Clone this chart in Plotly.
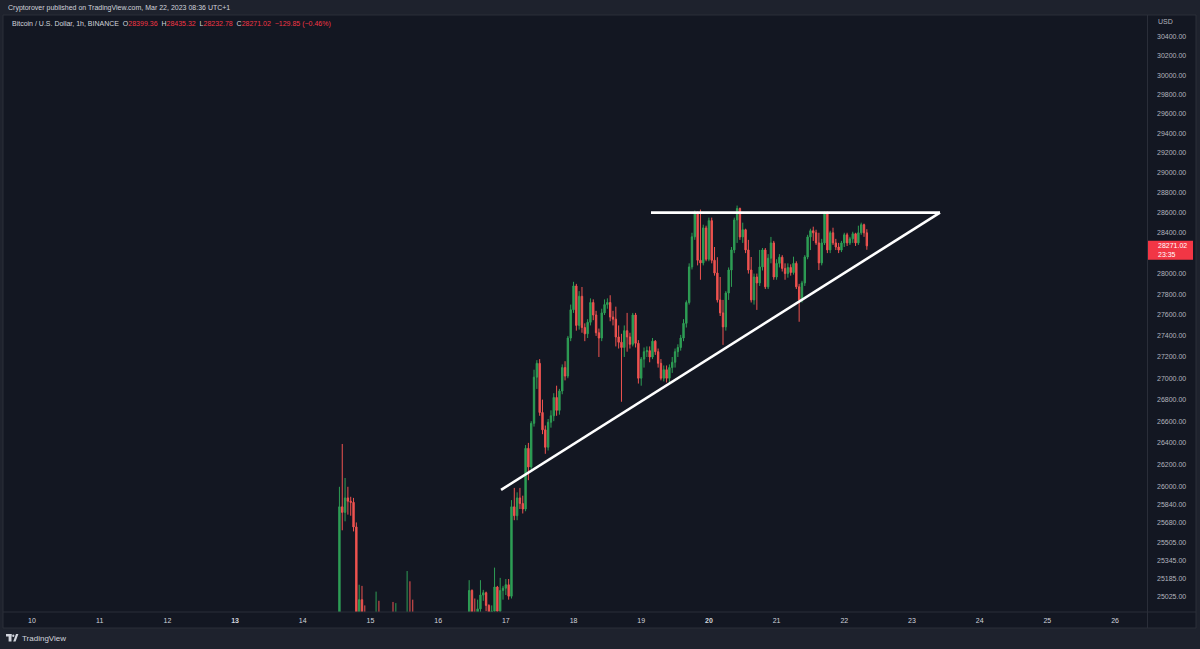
import numpy as np
import pandas as pd
import plotly.graph_objects as go

# ---------------- data (BTC/USD 1h, Binance) ----------------
start_time = "2023-03-14 13:00"

opens = [24700, 25820, 25770, 25900, 25870, 25860, 25640, 24780, 25000, 24880,
         24750, 24560, 24700, 24650, 24880, 24720, 24450, 24300, 24550, 24750,
         24700, 24850, 24550, 24350, 24650, 24880, 24760, 24550, 24250, 24000,
         24200, 24080, 24300, 24400, 24200, 24050, 24250, 24380, 24280, 24450,
         24550, 24400, 24600, 24700, 24550, 24750, 24850, 25080, 24850, 24760,
         24920, 25040, 25060, 24950, 24850, 24900, 25110, 24900, 25080, 25100,
         25130, 25030, 25820, 25740, 25900, 25850, 25800, 26350, 26180, 26580,
         27010, 27140, 26680, 26520, 26360, 26590, 26650, 26820, 26700, 26880,
         27100, 27020, 27380, 27650, 27880, 27500, 27780, 27480, 27420, 27530,
         27720, 27600, 27430, 27380, 27620, 27700, 27720, 27580, 27560, 27390,
         27340, 27290, 27450, 27390, 27320, 27600, 27330, 27000, 27180, 27250,
         27260, 27200, 27350, 27250, 27140, 27000, 27080, 27000, 27100, 27150,
         27250, 27290, 27380, 27520, 27720, 28065, 28360, 28600, 28130, 28104,
         28448, 28140, 28520, 28130, 28006, 27745, 27620, 27486, 27812, 28035,
         28231, 28527, 28640, 28359, 28430, 28231, 28035, 27745, 27967, 27909,
         28065, 28231, 27871, 28150, 28300, 27967, 28100, 28160, 28050, 28000,
         28060, 28010, 28100, 27871, 27745, 27909, 28162, 28359, 28420, 28400,
         28300, 28104, 28300, 28596, 28231, 28400, 28300, 28260, 28230, 28300,
         28380, 28300, 28340, 28390, 28300, 28400, 28480, 28399.36]
highs = [26000, 26390, 26080, 26000, 25910, 25900, 25680, 25130, 25120, 24950,
         24800, 24750, 24850, 25070, 24990, 24760, 24500, 24600, 24800, 24980,
         24970, 24880, 24600, 24700, 25250, 25160, 25000, 24600, 24300, 24250,
         24280, 24350, 24450, 24450, 24250, 24300, 24450, 24420, 24500, 24600,
         24580, 24650, 24750, 24780, 24800, 24880, 25170, 25090, 25010, 25000,
         25170, 25085, 25070, 24960, 24950, 25280, 25120, 25190, 25120, 25180,
         25180, 25880, 25990, 25950, 25990, 25920, 26380, 26400, 26600, 27080,
         27170, 27180, 26800, 26560, 26620, 26700, 26860, 26930, 26900, 27130,
         27160, 27400, 27700, 27920, 27900, 27830, 27870, 27520, 27560, 27760,
         27750, 27640, 27470, 27660, 27750, 27760, 27790, 27640, 27680, 27500,
         27420, 27500, 27620, 27430, 27620, 27620, 27360, 27200, 27290, 27300,
         27300, 27380, 27360, 27280, 27180, 27120, 27120, 27130, 27200, 27280,
         27320, 27410, 27560, 27740, 28100, 28400, 28620, 28610, 28630, 28480,
         28470, 28550, 28550, 28260, 28160, 27967, 27745, 27830, 28060, 28260,
         28550, 28670, 28650, 28500, 28440, 28330, 28162, 28000, 28000, 28231,
         28250, 28250, 28190, 28359, 28320, 28140, 28190, 28180, 28100, 28100,
         28090, 28165, 28120, 27900, 27930, 28180, 28380, 28440, 28460, 28430,
         28400, 28340, 28610, 28610, 28420, 28450, 28340, 28300, 28320, 28400,
         28400, 28360, 28410, 28400, 28470, 28500, 28490, 28435.32]
lows = [24650, 25610, 25690, 25750, 25740, 25600, 24700, 24700, 24800, 24700,
        24500, 24450, 24600, 24620, 24700, 24400, 24200, 24250, 24500, 24650,
        24680, 24500, 24300, 24300, 24600, 24700, 24500, 24200, 23950, 23900,
        24000, 24050, 24200, 24150, 23950, 24000, 24200, 24200, 24250, 24400,
        24350, 24380, 24550, 24500, 24520, 24700, 24800, 24780, 24700, 24700,
        24880, 24990, 24900, 24800, 24780, 24880, 24850, 24870, 25000, 25040,
        25000, 25010, 25700, 25700, 25800, 25760, 25780, 26060, 26150, 26550,
        26900, 26650, 26480, 26300, 26330, 26540, 26600, 26650, 26660, 26850,
        26980, 27000, 27350, 27620, 27450, 27460, 27430, 27350, 27380, 27500,
        27550, 27400, 27200, 27350, 27600, 27660, 27540, 27500, 27300, 27280,
        26780, 27200, 27250, 27280, 27300, 27290, 26950, 26930, 27100, 27200,
        27150, 27180, 27220, 27100, 26980, 26970, 26960, 26950, 27050, 27100,
        27200, 27260, 27350, 27480, 27700, 28040, 28330, 28080, 27940, 28080,
        28120, 28120, 28100, 27980, 27720, 27590, 27315, 27450, 27745, 27871,
        28200, 28300, 28330, 28300, 28200, 28000, 27720, 27700, 27649, 27880,
        28030, 27850, 27850, 28100, 27940, 27940, 28060, 28020, 27940, 27960,
        27980, 27990, 27850, 27535, 27720, 27880, 28140, 28230, 28320, 28280,
        28035, 28080, 28280, 28200, 28200, 28280, 28230, 28200, 28210, 28260,
        28270, 28280, 28300, 28270, 28280, 28380, 28360, 28232.78]
closes = [25820, 25770, 25900, 25870, 25860, 25640, 24780, 25000, 24880, 24750,
          24560, 24700, 24650, 24880, 24720, 24450, 24300, 24550, 24750, 24700,
          24850, 24550, 24350, 24650, 24880, 24760, 24550, 24250, 24000, 24200,
          24080, 24300, 24400, 24200, 24050, 24250, 24380, 24280, 24450, 24550,
          24400, 24600, 24700, 24550, 24750, 24850, 25080, 24850, 24760, 24920,
          25040, 25060, 24950, 24850, 24900, 25110, 24900, 25080, 25100, 25130,
          25030, 25820, 25740, 25900, 25850, 25800, 26350, 26180, 26580, 27010,
          27140, 26680, 26520, 26360, 26590, 26650, 26820, 26700, 26880, 27100,
          27020, 27380, 27650, 27880, 27500, 27780, 27480, 27420, 27530, 27720,
          27600, 27430, 27380, 27620, 27700, 27720, 27580, 27560, 27390, 27340,
          27290, 27450, 27390, 27320, 27600, 27330, 27000, 27180, 27250, 27260,
          27200, 27350, 27250, 27140, 27000, 27080, 27000, 27100, 27150, 27250,
          27290, 27380, 27520, 27720, 28065, 28360, 28600, 28130, 28104, 28448,
          28140, 28520, 28130, 28006, 27745, 27620, 27486, 27812, 28035, 28231,
          28527, 28640, 28359, 28430, 28231, 28035, 27745, 27967, 27909, 28065,
          28231, 27871, 28150, 28300, 27967, 28100, 28160, 28050, 28000, 28060,
          28010, 28100, 27871, 27745, 27909, 28162, 28359, 28420, 28400, 28300,
          28104, 28300, 28596, 28231, 28400, 28300, 28260, 28230, 28300, 28380,
          28300, 28340, 28390, 28300, 28400, 28480, 28399.36, 28271.02]

# drawn trend lines (time, price)
support_x = ["2023-03-16 22:18", "2023-03-23 09:56"]
support_y = [25972, 28600]
resist_x = ["2023-03-19 03:28", "2023-03-23 09:56"]
resist_y = [28600, 28600]

# axis ticks
price_ticks = [30400, 30200, 30000, 29800, 29600, 29400, 29200, 29000, 28800,
               28600, 28400, 28000, 27800, 27600, 27400, 27200, 27000, 26800,
               26600, 26400, 26200, 26000, 25840, 25680, 25505, 25345, 25185, 25025]
price_tick_text = [f"{v:.2f}" for v in price_ticks]
day_ticks = [f"2023-03-{d:02d}" for d in range(10, 27)]
day_labels = ["10", "11", "12", "<b>13</b>", "14", "15", "16", "17", "18", "19",
              "<b>20</b>", "21", "22", "23", "24", "25", "26"]

x_range = ["2023-03-09 13:43", "2023-03-26 11:20"]
y_range = [24893, 30633]

last_price = 28271.02
countdown = "23:35"

# ---------------- styling ----------------
BG = "#131722"
FRAME = "#1e222d"
BORDER = "#2a2e39"
GREEN = "#2e9e55"
RED = "#ef5350"
TXT = "#b2b5be"
FONT = "Liberation Sans"

times = pd.date_range(start_time, periods=len(closes), freq="h")

fig = go.Figure()
fig.add_trace(go.Candlestick(
    x=times, open=opens, high=highs, low=lows, close=closes,
    increasing=dict(line=dict(color=GREEN, width=1), fillcolor=GREEN),
    decreasing=dict(line=dict(color=RED, width=1), fillcolor=RED),
    whiskerwidth=0, showlegend=False, hoverinfo="skip"))
for xs, ys in [(support_x, support_y), (resist_x, resist_y)]:
    fig.add_trace(go.Scatter(x=xs, y=ys, mode="lines",
                             line=dict(color="#ffffff", width=2.6),
                             showlegend=False, hoverinfo="skip"))

W, H = 1200, 649
L, R, T, B = 3, 53, 15, 37
PW, PH = W - L - R, H - T - B


def px(X):
    return (X - L) / PW


def py(Y):
    return (H - B - Y) / PH


# paper-y of the last price on the log price scale
ly0, ly1 = np.log10(y_range[0]), np.log10(y_range[1])
tag_y = (np.log10(last_price) - ly0) / (ly1 - ly0)

shapes = [
    dict(type="rect", xref="paper", yref="paper", x0=px(3), x1=px(1196),
         y0=py(628), y1=py(15), fillcolor=BG, line=dict(color=BORDER, width=1),
         layer="below"),
    dict(type="line", xref="paper", yref="paper", x0=px(1147.5), x1=px(1147.5),
         y0=py(628), y1=py(15), line=dict(color=BORDER, width=1)),
    dict(type="line", xref="paper", yref="paper", x0=px(3), x1=px(1196),
         y0=py(612), y1=py(612), line=dict(color=BORDER, width=1)),
    # price tag
    dict(type="rect", xref="paper", yref="paper", x0=px(1148), x1=px(1193),
         y0=tag_y - 14 / PH, y1=tag_y + 5 / PH,
         fillcolor="#f23645", line=dict(width=0)),
    # TradingView logo
    dict(type="rect", xref="paper", yref="paper", x0=px(6), x1=px(11.5),
         y0=py(636.5), y1=py(634), fillcolor="#d1d4dc", line=dict(width=0)),
    dict(type="rect", xref="paper", yref="paper", x0=px(8.6), x1=px(11.5),
         y0=py(641.5), y1=py(634), fillcolor="#d1d4dc", line=dict(width=0)),
    dict(type="circle", xref="paper", yref="paper", x0=px(12.2), x1=px(14.4),
         y0=py(637), y1=py(634.5), fillcolor="#d1d4dc", line=dict(width=0)),
    dict(type="path", xref="paper", yref="paper",
         path=f"M {px(13.2)},{py(641.5)} L {px(15.6)},{py(641.5)} L {px(18.4)},{py(634)} L {px(16)},{py(634)} Z",
         fillcolor="#d1d4dc", line=dict(width=0)),
]

red_span = '<span style="color:#f23645">{}</span>'
legend_text = ("Bitcoin / U.S. Dollar, 1h, BINANCE  "
               "O" + red_span.format("28399.36") + "  H" + red_span.format("28435.32") +
               "  L" + red_span.format("28232.78") + "  C" + red_span.format("28271.02") +
               "  " + red_span.format("\u2212129.85 (\u22120.46%)"))

annotations = [
    dict(xref="paper", yref="paper", x=px(6), y=py(8), xanchor="left", yanchor="middle",
         text="Cryptorover published on TradingView.com, Mar 22, 2023 08:36 UTC+1",
         showarrow=False, font=dict(family=FONT, size=7, color="#d1d4dc")),
    dict(xref="paper", yref="paper", x=px(10), y=py(24), xanchor="left", yanchor="middle",
         text=legend_text, showarrow=False, font=dict(family=FONT, size=7, color="#d1d4dc")),
    dict(xref="paper", yref="paper", x=px(1156), y=py(22), xanchor="left", yanchor="middle",
         text="USD", showarrow=False, font=dict(family=FONT, size=7, color=TXT)),
    dict(xref="paper", yref="paper", x=px(1156), y=tag_y, xanchor="left",
         yanchor="middle", yshift=0, text="28271.02", showarrow=False,
         font=dict(family=FONT, size=7, color="#ffffff")),
    dict(xref="paper", yref="paper", x=px(1156), y=tag_y, xanchor="left",
         yanchor="middle", yshift=-9, text=countdown, showarrow=False,
         font=dict(family=FONT, size=7, color="#ffffff")),
    dict(xref="paper", yref="paper", x=px(20), y=py(638), xanchor="left", yanchor="middle",
         text="TradingView", showarrow=False, font=dict(family=FONT, size=8, color="#d1d4dc")),
]

fig.update_layout(
    width=W, height=H, autosize=False,
    margin=dict(l=L, r=R, t=T, b=B, pad=0),
    paper_bgcolor=FRAME, plot_bgcolor=BG,
    font=dict(family=FONT, size=7, color=TXT),
    shapes=shapes, annotations=annotations,
    xaxis=dict(type="date", range=x_range, tickvals=day_ticks, ticktext=day_labels,
               showgrid=False, zeroline=False, showline=False, ticks="",
               ticklabelstandoff=3, tickfont=dict(family=FONT, size=7, color="#d1d4dc"),
               rangeslider=dict(visible=False), fixedrange=True),
    yaxis=dict(type="log", side="right", range=[ly0, ly1],
               tickvals=price_ticks, ticktext=price_tick_text, showgrid=False,
               zeroline=False, showline=False, ticks="", ticklabelstandoff=9,
               tickfont=dict(family=FONT, size=7, color=TXT), fixedrange=True),
)

fig.write_html("out.html", config={"displayModeBar": False},
               post_script="document.body.style.margin='0';document.body.style.overflow='hidden';")
